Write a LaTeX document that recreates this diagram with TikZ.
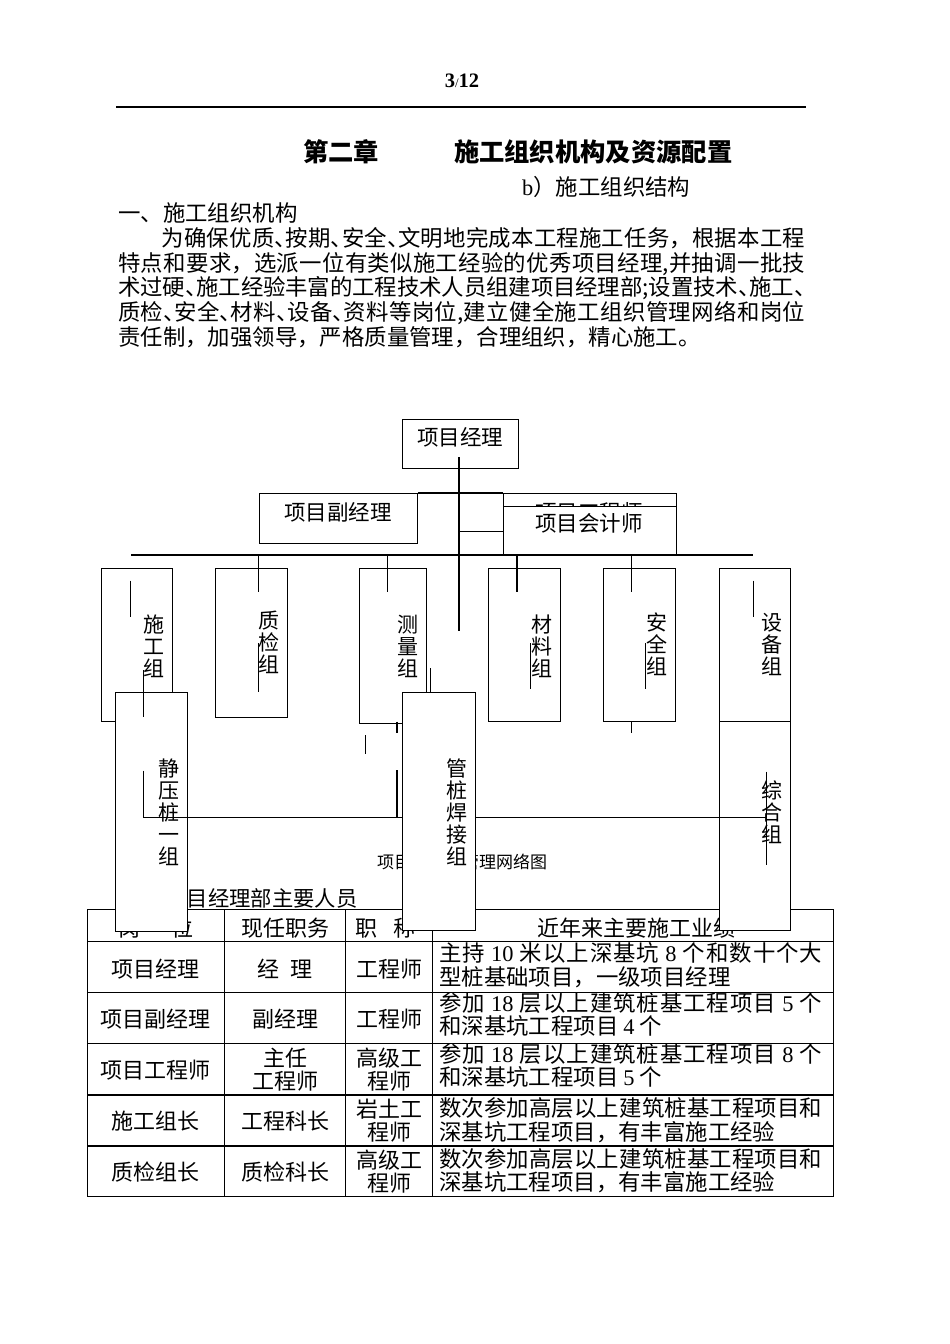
\documentclass[tikz,border=0pt]{standalone}
\usepackage{fontspec}
\setmainfont{Liberation Serif}
\newfontfamily\cjk{Noto Sans CJK SC}
\usetikzlibrary{positioning}

\XeTeXlinebreaklocale "zh"
\XeTeXlinebreakskip=0pt plus 2pt minus 0.6pt
\tolerance=9999
\hbadness=10000
\newcommand\lat[1]{{\rmfamily #1}}
\newcommand\dun{\makebox[0.5em][l]{、}}
\newcommand\tightlines{\lineskiplimit=-100pt\lineskip=0pt}

\tikzset{
  ln/.style={line width=1.2pt},
  orgbox/.style={draw, line width=1.2pt, fill=white, inner sep=0pt, anchor=north west},
  boxlabel/.style={inner sep=0pt, font=\cjk\fontsize{21.5}{22}\selectfont},
  grouplabel/.style={inner sep=0pt, align=center, font=\cjk\fontsize{21}{22}\selectfont\tightlines},
  bodytext/.style={inner sep=0pt, font=\cjk\fontsize{22.4}{24.6}\selectfont\tightlines},
  cell/.style={inner sep=0pt, align=center, font=\cjk\fontsize{22}{23.3}\selectfont\tightlines},
  celltext/.style={inner sep=0pt, anchor=west, text width=383pt, align=justify,
    font=\cjk\fontsize{22.4}{23.5}\selectfont\tightlines},
}

\begin{document}
\begin{tikzpicture}[x=1pt,y=-1pt]
\path[use as bounding box, fill=white] (0,0) rectangle (950,1344);

% ===== Page head =====
\node[inner sep=0pt, anchor=base] (pageno) at (462,87)
  {\fontsize{20.5}{20.5}\selectfont\bfseries 3{\mdseries\fontsize{13}{13}\selectfont /}12};
\draw[line width=1.5pt] (116,107) -- (806,107);

\node[inner sep=0pt, anchor=west, font=\cjk\bfseries\fontsize{25.3}{26}\selectfont] (chapter) at (303,151.7)
  {第二章\hspace{75pt}施工组织机构及资源配置};
\node[bodytext, anchor=west] (sub) at (522,186.7) {\lat{b}）施工组织结构};
\node[bodytext, anchor=west] (sec1) at (118,213.3) {一、施工组织机构};

% ===== Paragraph =====
\node[bodytext, anchor=west, text width=687pt, align=justify] (para) at (118,287.5)
  {\hspace*{43.5pt}为确保优质\dun 按期\dun 安全\dun 文明地完成本工程施工任务，根据本工程\linebreak
   特点和要求，选派一位有类似施工经验的优秀项目经理,并抽调一批技\linebreak
   术过硬\dun 施工经验丰富的工程技术人员组建项目经理部;设置技术\dun 施工\dun\linebreak
   质检\dun 安全\dun 材料\dun 设备\dun 资料等岗位,建立健全施工组织管理网络和岗位\linebreak
   责任制，加强领导，严格质量管理，合理组织，精心施工。};

% ===== Captions =====
\node[inner sep=0pt, anchor=west, font=\cjk\fontsize{17}{17}\selectfont] (netcap) at (377,861.7) {项目经理部管理网络图};
\node[inner sep=0pt, anchor=west, font=\cjk\fontsize{21.3}{22}\selectfont] (tabcap) at (165.4,898.3) {项目经理部主要人员};

% ===== Table =====
\draw[line width=1.5pt] (87.3,909.3) rectangle (833.3,1196.7);
\foreach \y in {941.7,992.7,1043.3,1095,1146} {
    \draw[line width=1.5pt] (87.3,\y) -- (833.3,\y);
}
\foreach \x in {224.3,345.7,432.7} {
    \draw[line width=1.5pt] (\x,909.3) -- (\x,1196.7);
}

% header
\node[cell] (h1) at (155.8,928) {岗\hspace{31pt}位};
\node[cell] (h2) at (285,928) {现任职务};
\node[cell, anchor=west] (h3) at (355,928) {职\hspace{16pt}称};
\node[cell] (h4) at (636,928) {近年来主要施工业绩};

% row 1
\node[cell] (r1a) at (155.8,969) {项目经理};
\node[cell] (r1b) at (285,969) {经\enspace 理};
\node[cell] (r1c) at (389.2,969) {工程师};
\node[celltext] (r1d) at (439,965) {主持 \lat{10} 米以上深基坑 \lat{8} 个和数十个大\linebreak 型桩基础项目，一级项目经理};

% row 2
\node[cell] (r2a) at (155.8,1019) {项目副经理};
\node[cell] (r2b) at (285,1019) {副经理};
\node[cell] (r2c) at (389.2,1019) {工程师};
\node[celltext] (r2d) at (439,1014.5) {参加 \lat{18} 层以上建筑桩基工程项目 \lat{5} 个\linebreak 和深基坑工程项目 \lat{4} 个};

% row 3
\node[cell] (r3a) at (155.8,1070) {项目工程师};
\node[cell] (r3b) at (285,1069.5) {主任\\工程师};
\node[cell] (r3c) at (389.2,1069.5) {高级工\\程师};
\node[celltext] (r3d) at (439,1065.5) {参加 \lat{18} 层以上建筑桩基工程项目 \lat{8} 个\linebreak 和深基坑工程项目 \lat{5} 个};

% row 4
\node[cell] (r4a) at (155.8,1121) {施工组长};
\node[cell] (r4b) at (285,1121) {工程科长};
\node[cell] (r4c) at (389.2,1120.5) {岩土工\\程师};
\node[celltext] (r4d) at (439,1120) {数次参加高层以上建筑桩基工程项目和\linebreak 深基坑工程项目，有丰富施工经验};

% row 5
\node[cell] (r5a) at (155.8,1171.7) {质检组长};
\node[cell] (r5b) at (285,1171.7) {质检科长};
\node[cell] (r5c) at (389.2,1171.3) {高级工\\程师};
\node[celltext] (r5d) at (439,1170.5) {数次参加高层以上建筑桩基工程项目和\linebreak 深基坑工程项目，有丰富施工经验};

% ===== Chart: boxes =====
\node[orgbox, minimum width=71pt, minimum height=238pt] (zh) at (719,692) {};
\node[grouplabel] (zhtxt) at (772.3,812.5) {综\\合\\组};

\node[orgbox, minimum width=116pt, minimum height=49pt] (pm) at (402,419) {};
\node[boxlabel] (pmtxt) at (460,437) {项目经理};
\node[orgbox, minimum width=158pt, minimum height=50pt] (fpm) at (259,493) {};
\node[boxlabel] (fpmtxt) at (338,512) {项目副经理};
\node[orgbox, minimum width=173pt, minimum height=62pt] (peng) at (503,493) {};
\node[boxlabel] (pengtxt) at (589,512.5) {项目工程师};
\node[orgbox, minimum width=173pt, minimum height=49pt] (acc) at (503,506) {};
\node[boxlabel] (acctxt) at (589,523) {项目会计师};

\node[orgbox, minimum width=71pt, minimum height=153pt] (sg) at (101,568) {};
\node[grouplabel] (sgtxt) at (154,646.5) {施\\工\\组};
\node[orgbox, minimum width=72pt, minimum height=149pt] (zj) at (215,568) {};
\node[grouplabel] (zjtxt) at (269,642.5) {质\\检\\组};
\node[orgbox, minimum width=67pt, minimum height=155pt] (cl) at (359,568) {};
\node[grouplabel] (cltxt) at (407.7,646) {测\\量\\组};
\node[orgbox, minimum width=72pt, minimum height=153pt] (cll) at (488,568) {};
\node[grouplabel] (clltxt) at (541.7,646) {材\\料\\组};
\node[orgbox, minimum width=72pt, minimum height=153pt] (aq) at (603,568) {};
\node[grouplabel] (aqtxt) at (656.7,644.7) {安\\全\\组};
\node[orgbox, minimum width=71pt, minimum height=153pt] (sb) at (719,568) {};
\node[grouplabel] (sbtxt) at (771.7,644.7) {设\\备\\组};

\node[orgbox, minimum width=72pt, minimum height=239pt] (jy) at (115,692) {};
\node[grouplabel] (jytxt) at (169,812.5) {静\\压\\桩\\一\\组};

% ===== Chart: lines =====
\coordinate (trunktop) at (459,457);
\coordinate (trunkend) at (459,631);
\draw[ln] (trunktop) -- (trunkend);
\draw[ln] (fpm.north east) -- (peng.north west);
\draw[ln] (acc.west -| trunktop) -- (acc.west);

\coordinate (busL) at (131,555);
\coordinate (busR) at (753,555);
\draw[ln] (busL) -- (busR);
\foreach \x in {258.7,387.7,517,631.7} {
    \draw[ln] (\x,555) -- (\x,592.3);
}

% loose strokes
\foreach \x/\ya/\yb in {130.7/580.7/617.3, 143.3/670/716.7, 258.3/643.3/692.3,
    430.7/668/692, 397/721.7/732.7, 365.7/735/754.3, 530.7/643/689,
    645.7/643/689, 631.7/721/733.3, 753.3/580.7/617.3} {
    \draw[ln] (\x,\ya) -- (\x,\yb);
}

% bottom link
\coordinate (linkL) at (143.3,817.3);
\coordinate (linkR) at (766.7,817.3);
\draw[ln] (143.3,770.7) -- (linkL) -- (linkR);
\draw[ln] (397,770) -- (397,817.3);
\draw[ln] (766.7,771.7) -- (766.7,865);

\node[orgbox, minimum width=73pt, minimum height=238pt] (gz) at (402,692) {};
\node[grouplabel] (gztxt) at (456.7,812.5) {管\\桩\\焊\\接\\组};

\end{tikzpicture}
\end{document}
